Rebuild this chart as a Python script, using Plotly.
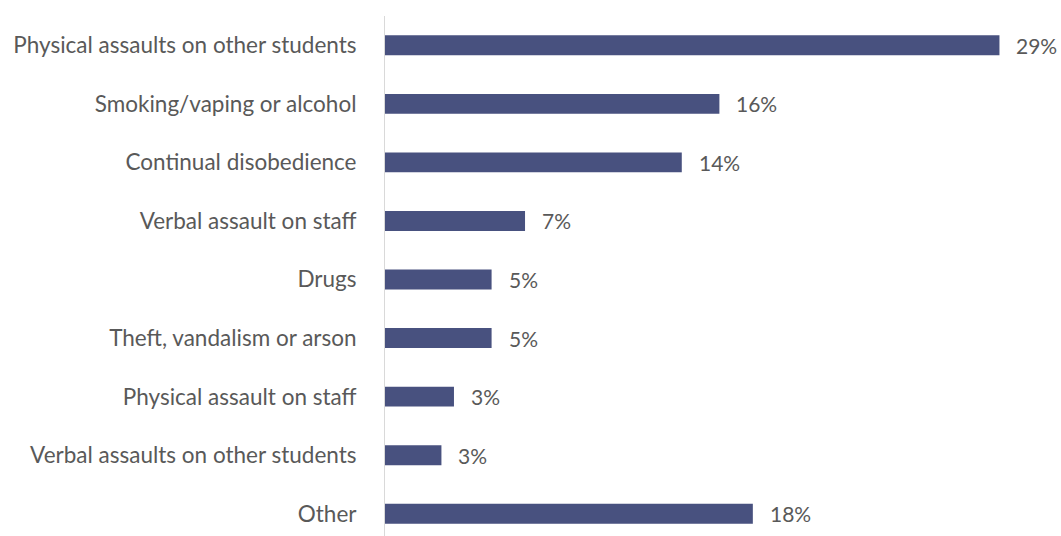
import plotly.graph_objects as go

categories = [
    "Physical assaults on other students",
    "Smoking/vaping or alcohol",
    "Continual disobedience",
    "Verbal assault on staff",
    "Drugs",
    "Theft, vandalism or arson",
    "Physical assault on staff",
    "Verbal assaults on other students",
    "Other",
]
percent = [29.4, 16.0, 14.2, 6.7, 5.1, 5.1, 3.3, 2.7, 17.6]

BAR_COLOR = "#48517f"
TEXT_COLOR = "#595959"
FONT = "Lato"

W, H = 1061, 536
left, top = 385, 16
px_per_unit = 20.9
row_px = 58.56

fig = go.Figure(
    go.Bar(
        x=percent,
        y=list(range(len(categories))),
        orientation="h",
        marker=dict(color=BAR_COLOR, line=dict(width=0)),
        width=0.34,
        hoverinfo="skip",
    )
)

for i, v in enumerate(percent):
    fig.add_annotation(
        x=v, y=i, text=f"{v:.0f}%", showarrow=False,
        xanchor="left", yanchor="middle", xshift=15,
        font=dict(family=FONT, size=21, color=TEXT_COLOR),
    )

plot_w = W - left
plot_h = H - top
fig.update_layout(
    width=W, height=H,
    margin=dict(l=left, r=0, t=top, b=0),
    paper_bgcolor="white", plot_bgcolor="white",
    showlegend=False,
    font=dict(family=FONT, size=21, color=TEXT_COLOR),
    xaxis=dict(range=[0, plot_w / px_per_unit], visible=False, fixedrange=True),
    yaxis=dict(
        range=[-0.5 + plot_h / row_px, -0.5],
        tickmode="array",
        tickvals=list(range(len(categories))),
        ticktext=categories,
        showline=True, linecolor="#d9d9d9", linewidth=1,
        showgrid=False, zeroline=False, ticks="",
        ticklabelstandoff=23,
        tickfont=dict(family=FONT, size=22.5, color=TEXT_COLOR),
    ),
)

fig.write_html("out.html")
